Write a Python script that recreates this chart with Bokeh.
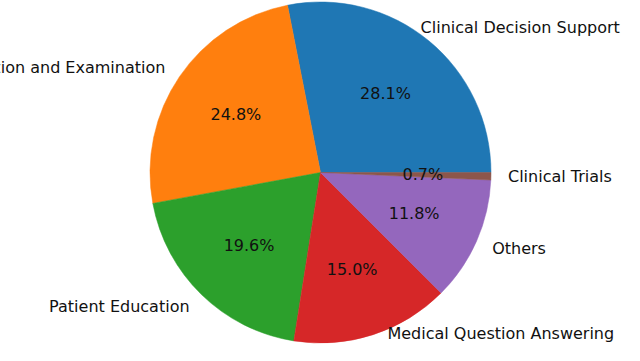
import numpy as np
from bokeh.plotting import figure
from bokeh.models import ColumnDataSource, Range1d
from bokeh.core.properties import value
from bokeh.embed import file_html
from bokeh.resources import INLINE

categories = ["Clinical Decision Support", "Consultation and Examination", "Patient Education",
              "Medical Question Answering", "Others", "Clinical Trials"]
shares = [28.1, 24.8, 19.6, 15.0, 11.8, 0.7]
colors = ["#1f77b4", "#ff7f0e", "#2ca02c", "#d62728", "#9467bd", "#8c564b"]
# pixel nudges so edge labels stay inside the canvas
label_dx = [-19, 0, 0, 9, 0, 0]
label_dy = [0, 0, 0, -17, 0, 0]

vals = np.array(shares, dtype=float)
frac = vals / vals.sum()
ends = np.cumsum(frac) * 2 * np.pi
starts = ends - frac * 2 * np.pi
mids = (starts + ends) / 2

W, H = 624, 345
scale = 170.5
cx, cy = 320, 172  # canvas px of pie centre
p = figure(width=W, height=H, output_backend="svg", toolbar_location=None,
           x_range=Range1d(-cx / scale, (W - cx) / scale),
           y_range=Range1d(-(H - cy) / scale, cy / scale),
           min_border=0)
p.axis.visible = False
p.grid.visible = False
p.outline_line_color = None
p.background_fill_color = "white"
p.border_fill_color = "white"

src = ColumnDataSource(dict(start=starts, end=ends, color=colors))
p.wedge(x=0, y=0, radius=1.0, start_angle="start", end_angle="end",
        fill_color="color", line_color="color", line_width=0.5, source=src)

lx = 1.1 * np.cos(mids)
ly = 1.1 * np.sin(mids)
px = 0.6 * np.cos(mids)
py = 0.6 * np.sin(mids)
r = lx > 0
cats = np.array(categories)
dx = np.array(label_dx)
dy = np.array(label_dy)
rs = ColumnDataSource(dict(x=lx[r], y=ly[r], t=list(cats[r]), dx=dx[r], dy=dy[r]))
ls = ColumnDataSource(dict(x=lx[~r], y=ly[~r], t=list(cats[~r]), dx=dx[~r], dy=dy[~r]))
fs = "16px"
tc = "#111111"
p.text(x="x", y="y", text="t", source=rs, text_align="left", text_baseline="middle",
       x_offset="dx", y_offset="dy",
       text_font=value("DejaVu Sans"), text_font_size=fs, text_color=tc)
p.text(x="x", y="y", text="t", source=ls, text_align="right", text_baseline="middle",
       x_offset="dx", y_offset="dy",
       text_font=value("DejaVu Sans"), text_font_size=fs, text_color=tc)
ps = ColumnDataSource(dict(x=px, y=py, t=[f"{v:.1f}%" for v in frac * 100]))
p.text(x="x", y="y", text="t", source=ps, text_align="center", text_baseline="middle",
       text_font=value("DejaVu Sans"), text_font_size=fs, text_color=tc)

open("out.html", "w").write(file_html(p, INLINE))
